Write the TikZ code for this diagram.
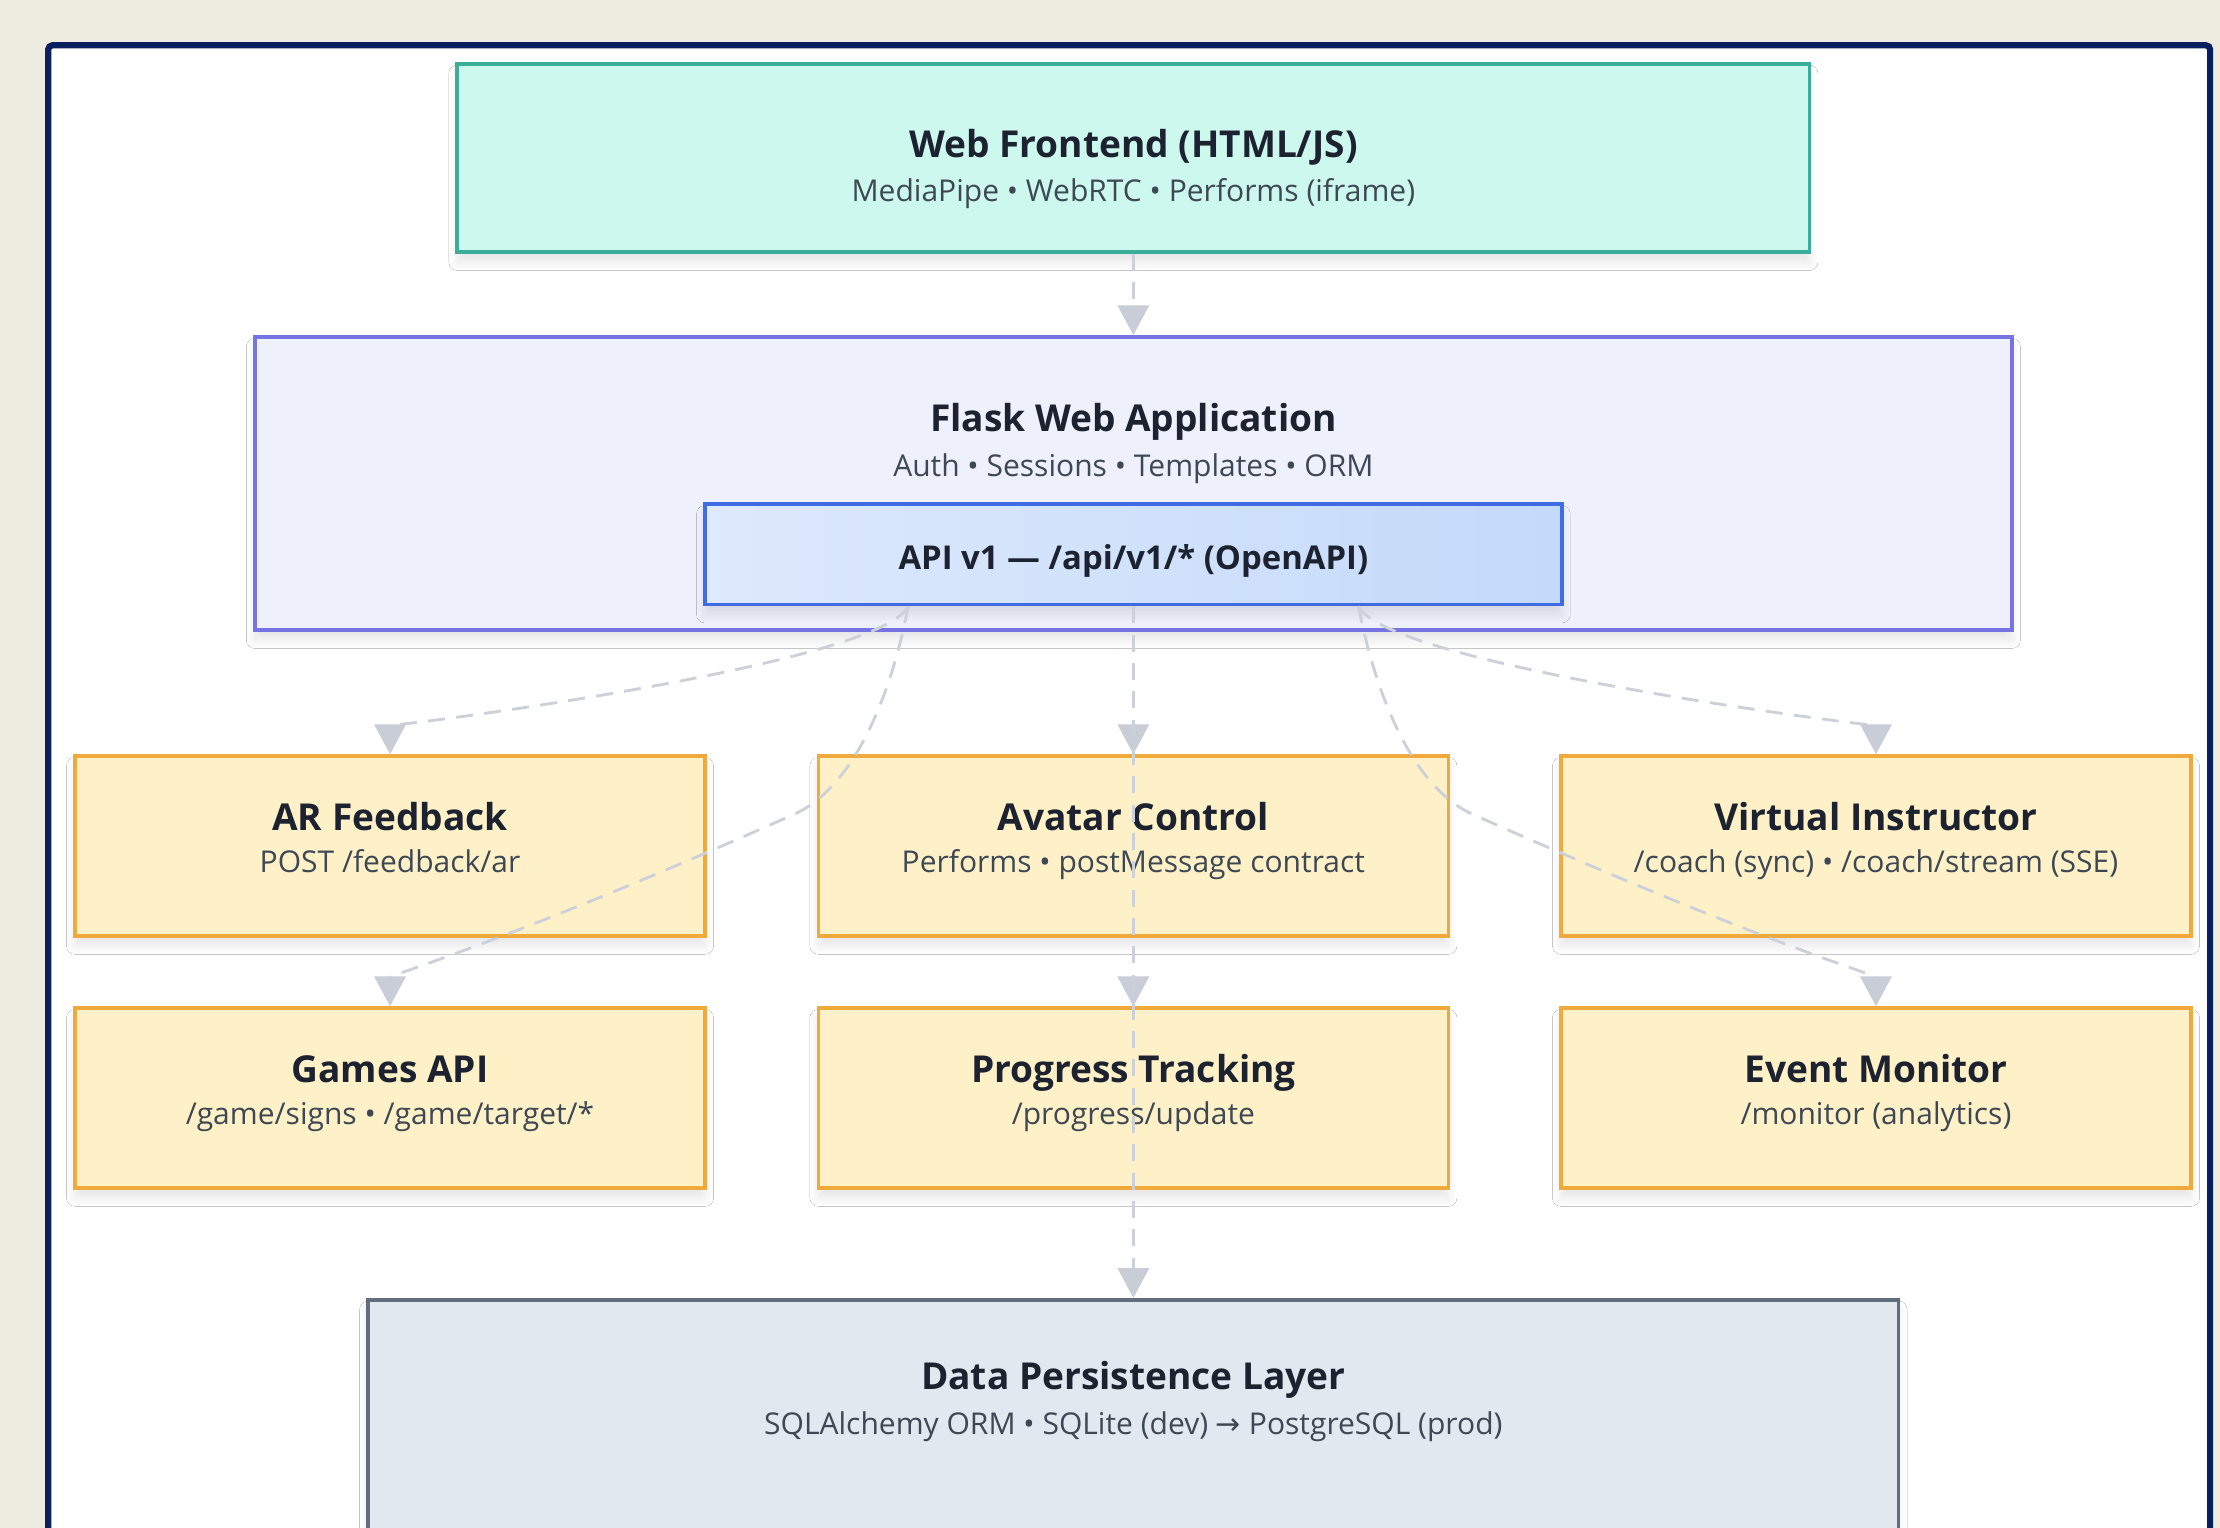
\documentclass[tikz,border=0pt]{standalone}
\usepackage{fontspec}
\setmainfont{Open Sans}
\newfontfamily\arrowfont{DejaVu Sans}
\usetikzlibrary{arrows.meta,shadows.blur,positioning}

\definecolor{pagebg}{RGB}{238,235,224}
\definecolor{framenavy}{RGB}{10,32,94}
\definecolor{frontfill}{RGB}{204,248,238}
\definecolor{frontline}{RGB}{58,174,152}
\definecolor{appfill}{RGB}{238,240,252}
\definecolor{appline}{RGB}{118,116,226}
\definecolor{apifillA}{RGB}{221,233,252}
\definecolor{apifillB}{RGB}{196,218,250}
\definecolor{apiline}{RGB}{63,108,226}
\definecolor{svcfill}{RGB}{254,241,199}
\definecolor{svcline}{RGB}{240,170,60}
\definecolor{datafill}{RGB}{226,232,240}
\definecolor{dataline}{RGB}{96,110,128}
\definecolor{edgegray}{RGB}{204,208,216}
\definecolor{tipgray}{RGB}{200,205,215}
\definecolor{titleink}{RGB}{28,34,48}
\definecolor{subink}{RGB}{62,72,84}

\begin{document}
\begin{tikzpicture}
  [
  x=0.5pt, y=-0.5pt,
  flow/.style={draw=edgegray, line width=1pt, dash pattern=on 6pt off 4pt,
    -{Triangle[width=11pt,length=10.5pt,color=tipgray]}},
  shadowbox/.style={rectangle, inner sep=0pt, line width=1.3pt,
    blur shadow={shadow blur radius=3pt, shadow blur steps=12, shadow xshift=0pt, shadow yshift=-3.5pt, shadow opacity=10}},
  frontbox/.style={shadowbox, minimum width=477.5pt, minimum height=66.5pt, fill=frontfill, draw=frontline},
  appbox/.style={shadowbox, minimum width=620.5pt, minimum height=103.5pt, fill=appfill, draw=appline},
  apibox/.style={shadowbox, minimum width=302.5pt, minimum height=35.5pt, left color=apifillA, right color=apifillB,
    draw=apiline},
  svcbox/.style={shadowbox, minimum width=222.5pt, minimum height=63.5pt, fill=svcfill, draw=svcline},
  databox/.style={shadowbox, minimum width=540.5pt, minimum height=101pt, fill=datafill, draw=dataline},
  boxtitle/.style={anchor=base, text=titleink, font=\fontsize{13.1}{16}\selectfont\bfseries},
  apititle/.style={anchor=base, text=titleink, font=\fontsize{11.6}{14}\selectfont\bfseries},
  boxsub/.style={anchor=base, text=subink, font=\fontsize{10.6}{13}\selectfont},
  ]

  \useasboundingbox (0,0) rectangle (1568,1079);
  \clip (0,0) rectangle (1568,1079);
  \fill[pagebg] (0,0) rectangle (1568,1079);
  \draw[line width=2.2pt, draw=framenavy, fill=white, rounded corners=1.5pt] (34,32) rectangle (1561,1120);

  % client + app layers
  \node[frontbox] (web) at (800.5,111.5) {};
  \node[boxtitle] at (800.5,111.5) {Web Frontend (HTML/JS)};
  \node[boxsub] at (800.5,142.5) {MediaPipe • WebRTC • Performs (iframe)};

  \node[appbox] (flask) at (800.5,341.5) {};
  \node[boxtitle] at (800.5,304.5) {Flask Web Application};
  \node[boxsub] at (800.5,336.5) {Auth • Sessions • Templates • ORM};
  \node[apibox] (api) at (800.5,391.5) {};
  \node[apititle] at (800.5,402) {API v1 — /api/v1/* (OpenAPI)};

  % services
  \foreach \n/\x/\y in {ar/275.5/597.5, avatar/800.5/597.5, coach/1325/597.5,
                        games/275.5/775.5, progress/800.5/775.5, monitor/1325/775.5} {
    \node[svcbox] (\n) at (\x,\y) {};
  }

  \node[boxtitle] at (275.5,586.5) {AR Feedback};
  \node[boxsub] at (275.5,616.5) {POST /feedback/ar};
  \node[boxtitle] at (800.5,586.5) {Avatar Control};
  \node[boxsub] at (800.5,616.5) {Performs • postMessage contract};
  \node[boxtitle] at (1325,586.5) {Virtual Instructor};
  \node[boxsub] at (1325,616.5) {/coach (sync) • /coach/stream (SSE)};

  \node[boxtitle] at (275.5,764.5) {Games API};
  \node[boxsub] at (275.5,794.5) {/game/signs • /game/target/*};
  \node[boxtitle] at (800.5,764.5) {Progress Tracking};
  \node[boxsub] at (800.5,794.5) {/progress/update};
  \node[boxtitle] at (1325,764.5) {Event Monitor};
  \node[boxsub] at (1325,794.5) {/monitor (analytics)};

  % storage
  \node[databox] (data) at (800.5,1019) {};
  \node[boxtitle] at (800.5,981.5) {Data Persistence Layer};
  \node[boxsub] at (800.5,1013.5) {SQLAlchemy ORM • SQLite (dev) {\arrowfont →} PostgreSQL (prod)};

  % connectors
  \draw[flow] (web.south) -- (flask.north);
  \draw[flow] (api.south) -- (avatar.north);
  \draw[flow] (api.south) -- (progress.north);
  \draw[flow] (api.south) -- (data.north);

  \draw[flow] ([xshift=-79.5pt]api.south) .. controls +(-21,42) and +(0,-19) .. (ar.north);
  \draw[flow] ([xshift=79.5pt]api.south) .. controls +(21,42) and +(0,-19) .. (coach.north);

  \draw[flow] ([xshift=-79.5pt]api.south) .. controls +(-13,67) and +(41,-18) .. ++(-81,147)
    .. controls +(-200,89) and +(0,-22) .. (games.north);
  \draw[flow] ([xshift=79.5pt]api.south) .. controls +(13,67) and +(-41,-18) .. ++(81,147)
    .. controls +(200,89) and +(0,-22) .. (monitor.north);

\end{tikzpicture}
\end{document}
